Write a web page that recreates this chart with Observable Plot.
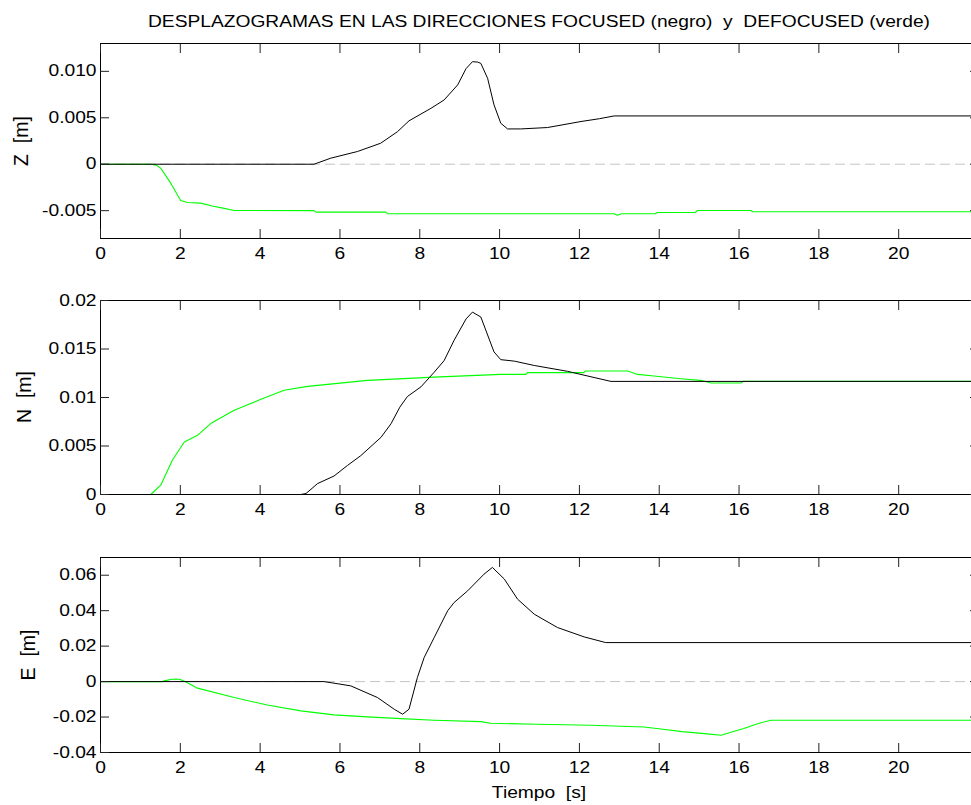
<!DOCTYPE html>
<html><head><meta charset="utf-8">
<script src="https://cdn.jsdelivr.net/npm/d3@7"></script>
<script src="https://cdn.jsdelivr.net/npm/@observablehq/plot@0.6"></script>
<style>
html,body{margin:0;padding:0;background:#fff;overflow:hidden;}
#wrap{position:relative;width:971px;height:805px;overflow:hidden;font-family:"Liberation Sans",Arial,Helvetica,sans-serif;color:#000;}
.panel{position:absolute;left:0;max-width:none !important;}
.lab{position:absolute;white-space:pre;line-height:1;}
</style></head><body><div id="wrap"></div>
<script>
// ---- tick values and labels ----
const xTicks = [0, 2, 4, 6, 8, 10, 12, 14, 16, 18, 20];
const xTickLabels = ["0", "2", "4", "6", "8", "10", "12", "14", "16", "18", "20"];
const xDomain = [0, 22];

const zTicks = [-0.005, 0, 0.005, 0.010];
const zTickLabels = ["-0.005", "0", "0.005", "0.010"];
const zDomain = [-0.008, 0.013];

const nTicks = [0, 0.005, 0.01, 0.015, 0.02];
const nTickLabels = ["0", "0.005", "0.01", "0.015", "0.02"];
const nDomain = [0, 0.02];

const eTicks = [-0.04, -0.02, 0, 0.02, 0.04, 0.06];
const eTickLabels = ["-0.04", "-0.02", "0", "0.02", "0.04", "0.06"];
const eDomain = [-0.04, 0.07];

// ---- texts ----
const titleText = "DESPLAZOGRAMAS EN LAS DIRECCIONES FOCUSED (negro)  y  DEFOCUSED (verde)";
const yLabels = ["Z  [m]", "N  [m]", "E  [m]"];
const xLabel = "Tiempo  [s]";

// ---- Z panel (focused = black, defocused = green) ----
const zBlackT = [0, 5.35, 5.77, 6.44, 7.02, 7.44, 7.73, 8.28, 8.61, 8.95, 9.16, 9.32, 9.45, 9.53, 9.70, 9.86, 10.03, 10.2, 10.53, 11.2, 12.04, 12.5, 12.87, 22];
const zBlackV = [0, 0, 0.00065, 0.00137, 0.00226, 0.0035, 0.00467, 0.00602, 0.00692, 0.00854, 0.0103, 0.01104, 0.0110, 0.01086, 0.00925, 0.00639, 0.00441, 0.0038, 0.0038, 0.00395, 0.0046, 0.0049, 0.0052, 0.0052];
const zGreenT = [0, 1.26, 1.4, 1.51, 1.76, 2.01, 2.18, 2.51, 2.8, 3.10, 3.35, 5.35, 5.4, 7.15, 7.2, 12.87, 12.95, 13.05, 13.9, 13.95, 14.9, 14.96, 16.3, 16.34, 22];
const zGreenV = [0, 0, -0.0001, -0.00043, -0.00204, -0.0039, -0.00412, -0.00419, -0.0045, -0.00476, -0.00498, -0.005, -0.00516, -0.00516, -0.00534, -0.00534, -0.0055, -0.00534, -0.00534, -0.0052, -0.0052, -0.00498, -0.00498, -0.00512, -0.00512];

// ---- N panel ----
const nBlackT = [0, 5.02, 5.15, 5.44, 5.85, 6.19, 6.52, 7.03, 7.28, 7.5, 7.69, 8.03, 8.36, 8.61, 8.86, 9.16, 9.32, 9.53, 9.86, 10.03, 10.37, 10.87, 11.7, 12.79, 22];
const nBlackV = [0, 0, 0.0001, 0.00113, 0.0019, 0.0030, 0.0040, 0.0059, 0.0073, 0.0090, 0.0101, 0.0111, 0.0126, 0.0138, 0.0159, 0.0181, 0.0188, 0.0183, 0.0147, 0.0139, 0.01375, 0.0133, 0.0127, 0.01166, 0.01166];
const nGreenT = [0, 1.26, 1.51, 1.80, 2.10, 2.43, 2.76, 3.35, 4.02, 4.6, 5.19, 6.69, 8.36, 10.03, 10.66, 10.7, 12.11, 12.15, 13.21, 13.46, 13.87, 14.54, 15.04, 15.3, 16.05, 16.1, 22];
const nGreenV = [0, 0, 0.00096, 0.00353, 0.00541, 0.0061, 0.00731, 0.00868, 0.00981, 0.01074, 0.01115, 0.01177, 0.0121, 0.01238, 0.01238, 0.01256, 0.01256, 0.01273, 0.01273, 0.01238, 0.01221, 0.01194, 0.01177, 0.01149, 0.01149, 0.01166, 0.01166];

// ---- E panel ----
const eBlackT = [0, 5.6, 6.27, 6.94, 7.36, 7.57, 7.73, 7.94, 8.11, 8.36, 8.70, 8.86, 9.20, 9.61, 9.82, 10.12, 10.45, 10.87, 11.45, 12.12, 12.66, 22];
const eBlackV = [0, 0, -0.0024, -0.009, -0.0156, -0.0184, -0.0156, 0.0023, 0.0136, 0.0248, 0.040, 0.0446, 0.0512, 0.0606, 0.0644, 0.0578, 0.0465, 0.038, 0.0305, 0.0252, 0.022, 0.022];
const eGreenT = [0, 1.55, 1.6, 1.75, 1.89, 2.0, 2.18, 2.43, 3.35, 4.18, 5.02, 5.85, 6.69, 7.53, 8.36, 9.53, 9.78, 10.95, 12.29, 13.62, 14.04, 14.57, 15.2, 15.55, 15.88, 16.12, 16.5, 16.8, 22];
const eGreenV = [0, 0, 0.0004, 0.0012, 0.0015, 0.0012, -0.0006, -0.0037, -0.009, -0.0132, -0.0165, -0.0188, -0.0199, -0.0209, -0.0218, -0.0226, -0.0235, -0.0241, -0.0246, -0.0256, -0.0267, -0.0282, -0.0295, -0.0303, -0.028, -0.0265, -0.0235, -0.0218, -0.0218];

const rows = (T, V) => T.map((t, i) => ({t, v: V[i]}));

const wrap = document.getElementById("wrap");
const FONT = "'Liberation Sans', Arial, Helvetica, sans-serif";
const STRETCH = 1.2;

function stretchTexts(svg) {
  svg.querySelectorAll("text").forEach(t => {
    if (!t.textContent) return;
    const w = t.getComputedTextLength();
    if (w > 0) {
      t.setAttribute("textLength", (w * STRETCH).toFixed(2));
      t.setAttribute("lengthAdjust", "spacingAndGlyphs");
    }
  });
}

function panel({top, height, mt, mb, yDomain, yTicks, yTickLabels, black, green, zeroLine}) {
  const fmtX = d => xTickLabels[xTicks.indexOf(d)] ?? "";
  const fmtY = d => yTickLabels[yTicks.findIndex(t => Math.abs(t - d) < 1e-9)] ?? "";
  const marks = [];
  if (zeroLine) marks.push(Plot.ruleY([0], {stroke: "#c4c4c4", strokeWidth: 1, strokeDasharray: "10,5"}));
  marks.push(
    Plot.line(green, {x: "t", y: "v", stroke: "#00ff00", strokeWidth: 1.1}),
    Plot.line(black, {x: "t", y: "v", stroke: "#000000", strokeWidth: 1}),
    Plot.frame({stroke: "#000", strokeWidth: 1}),
    Plot.axisX({anchor: "bottom", ticks: xTicks, tickSize: -9, tickPadding: 18, tickFormat: fmtX, label: null, stroke: "#222"}),
    Plot.axisX({anchor: "top", ticks: xTicks, tickSize: -9, tickFormat: () => "", label: null, stroke: "#222"}),
    Plot.axisY({anchor: "left", ticks: yTicks, tickSize: -9, tickPadding: 13, tickFormat: fmtY, label: null, stroke: "#222"}),
    Plot.axisY({anchor: "right", ticks: yTicks, tickSize: -9, tickFormat: () => "", label: null, stroke: "#222"})
  );
  const svg = Plot.plot({
    width: 978, height,
    marginLeft: 100, marginRight: 0, marginTop: mt, marginBottom: mb,
    x: {domain: xDomain},
    y: {domain: yDomain},
    style: {fontFamily: FONT, fontSize: "16px", background: "transparent", color: "#000", overflow: "visible", maxWidth: "none"},
    marks
  });
  svg.classList.add("panel");
  svg.style.top = top + "px";
  svg.style.position = "absolute";
  svg.style.maxWidth = "none";
  svg.style.width = "978px";
  wrap.appendChild(svg);
  stretchTexts(svg);
}

panel({top: 0, height: 270, mt: 43, mb: 32, yDomain: zDomain, yTicks: zTicks, yTickLabels: zTickLabels,
  black: rows(zBlackT, zBlackV), green: rows(zGreenT, zGreenV), zeroLine: true});
panel({top: 270, height: 260, mt: 30, mb: 36, yDomain: nDomain, yTicks: nTicks, yTickLabels: nTickLabels,
  black: rows(nBlackT, nBlackV), green: rows(nGreenT, nGreenV), zeroLine: false});
panel({top: 530, height: 275, mt: 27, mb: 53, yDomain: eDomain, yTicks: eTicks, yTickLabels: eTickLabels,
  black: rows(eBlackT, eBlackV), green: rows(eGreenT, eGreenV), zeroLine: true});

function addLabel(text, x, y, size, rotate, sx) {
  const d = document.createElement("div");
  d.className = "lab";
  d.textContent = text;
  d.style.left = x + "px";
  d.style.top = y + "px";
  d.style.fontSize = size + "px";
  d.style.transform = "translate(-50%,-50%)" + (rotate ? " rotate(-90deg)" : ` scaleX(${sx})`);
  wrap.appendChild(d);
}
addLabel(titleText, 538.5, 22, 16, false, STRETCH);
addLabel(yLabels[0], 22, 140.5, 19.5, true);
addLabel(yLabels[1], 25, 397, 19.5, true);
addLabel(yLabels[2], 29, 654.5, 19.5, true);
addLabel(xLabel, 538.5, 793, 16, false, STRETCH);
</script>
</body></html>
